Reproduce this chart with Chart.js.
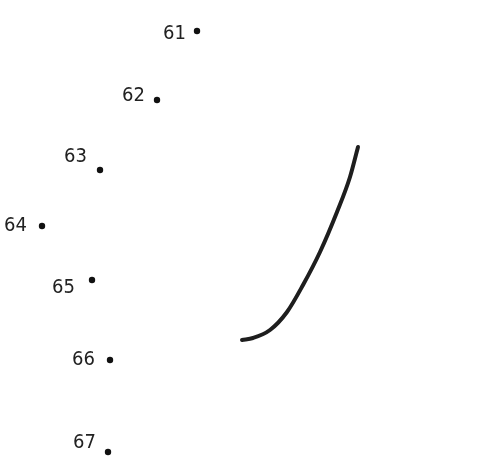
<!DOCTYPE html>
<html>
<head>
<meta charset="utf-8">
<script src="https://cdn.jsdelivr.net/npm/chart.js@4"></script>
<style>
html,body{margin:0;padding:0;background:#fff;}
#wrap{width:500px;height:461px;}
</style>
</head>
<body>
<div id="wrap"><canvas id="c" width="500" height="461"></canvas></div>
<script>
// Dot numbers and their positions (in picture units)
const dotLabels = ["61", "62", "63", "64", "65", "66", "67"];
const dotX = [197, 157, 100, 42, 92, 110, 108];
const dotY = [31, 100, 170, 226, 280, 360, 452];
// Already-drawn curve segment
const curveX = [242, 253, 270, 287, 303, 320, 337, 350, 358];
const curveY = [340, 338, 330, 312, 285, 252, 212, 177, 147];

// label offsets (style, in px)
const labelDX = [-11, -12, -13, -15, -17, -15, -12];
const labelDY = [3, -4, -13, 0, 8, 0, -9];

const dots = dotX.map((x, i) => ({x: x, y: dotY[i]}));
const curve = curveX.map((x, i) => ({x: x, y: curveY[i]}));

const labelPlugin = {
  id: 'dotLabels',
  afterDatasetsDraw(chart) {
    const ctx = chart.ctx;
    const meta = chart.getDatasetMeta(1);
    ctx.save();
    ctx.font = '20px "DejaVu Sans Condensed", "DejaVu Sans", sans-serif';
    ctx.fillStyle = '#222';
    ctx.textAlign = 'right';
    ctx.textBaseline = 'middle';
    meta.data.forEach((el, i) => {
      ctx.fillText(dotLabels[i], el.x + labelDX[i], el.y + labelDY[i]);
    });
    ctx.restore();
  }
};

new Chart(document.getElementById('c'), {
  type: 'scatter',
  data: {
    datasets: [
      {
        data: curve,
        showLine: true,
        borderColor: '#1e1e1e',
        borderWidth: 4,
        borderCapStyle: 'round',
        cubicInterpolationMode: 'monotone',
        pointRadius: 0,
        fill: false
      },
      {
        data: dots,
        pointRadius: 3.2,
        pointBackgroundColor: '#111',
        pointBorderWidth: 0,
        showLine: false
      }
    ]
  },
  options: {
    responsive: false,
    animation: false,
    layout: {padding: 0, autoPadding: false},
    plugins: {legend: {display: false}, tooltip: {enabled: false}},
    scales: {
      x: {type: 'linear', min: 0, max: 500, display: false},
      y: {type: 'linear', min: 0, max: 461, reverse: true, display: false}
    }
  },
  plugins: [labelPlugin]
});
</script>
</body>
</html>
